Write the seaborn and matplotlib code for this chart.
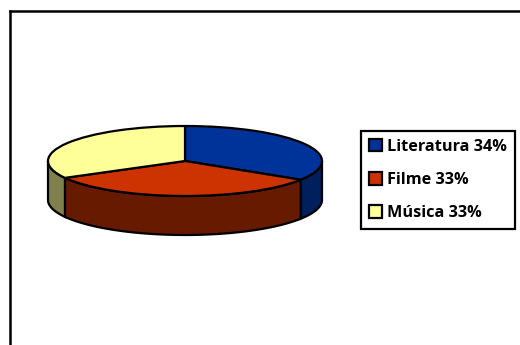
import numpy as np
import matplotlib
matplotlib.use("Agg")
import matplotlib.pyplot as plt
from matplotlib.patches import Polygon
import seaborn as sns

categories = ["Literatura", "Filme", "Música"]
values = [34, 33, 33]
top_colors = ["#003399", "#CC3300", "#FFFF99"]
side_colors = ["#001F5C", "#661A00", "#80804D"]

W, H = 520, 345
CX, CY, RX, RY, DEPTH = 185, 161, 137, 35, 39

sns.set_style("white")
plt.rcParams["font.family"] = ["Open Sans", "DejaVu Sans"]
plt.rcParams["text.color"] = "black"

fig = plt.figure(figsize=(W / 100, H / 100), dpi=100, facecolor="white")
left, top = 10, 10.5
ax = fig.add_axes([left / W, 0, (W - left) / W, (H - top) / H])

edge = dict(edgecolor="black", linewidth=1.6)
wedges, _ = ax.pie(values, colors=top_colors, startangle=90, counterclock=False,
                   wedgeprops=dict(**edge, joinstyle="round", zorder=3), normalize=True)

# Front wall of the disc: visible part of each slice below the horizontal axis
shift = DEPTH / RY
fractions = np.cumsum([0] + values) / sum(values)
for i, color in enumerate(side_colors):
    a0 = 90 - 360 * fractions[i]
    a1 = 90 - 360 * fractions[i + 1]
    a0, a1 = min(a0, 0), max(a1, -180)
    if a0 <= a1:
        continue
    t = np.radians(np.linspace(a0, a1, 80))
    x, y = np.cos(t), np.sin(t)
    pts = np.r_[np.c_[x, y], np.c_[x, y - shift][::-1]]
    ax.add_patch(Polygon(pts, closed=True, facecolor=color, zorder=2, **edge))

ax.set_aspect("auto")
ax.set_xlim((left - CX) / RX, (W - CX) / RX)
ax.set_ylim((CY - H) / RY, (CY - top) / RY)
ax.set_xticks([])
ax.set_yticks([])
ax.set_frame_on(True)
sns.despine(ax=ax, right=True, bottom=True)
for side in ("left", "top"):
    ax.spines[side].set_visible(True)
    ax.spines[side].set_color("black")
    ax.spines[side].set_linewidth(1.8)

labels = [f"{c} {v}%" for c, v in zip(categories, values)]
leg = ax.legend(wedges, labels, loc="center",
                bbox_to_anchor=(438.2 / W, 1 - 180 / H), bbox_transform=fig.transFigure,
                frameon=True, fancybox=False, framealpha=1, edgecolor="black",
                prop=dict(weight="bold", size=11.7),
                handlelength=0.8, handleheight=0.8, handletextpad=0.32,
                labelspacing=1.06, borderpad=0.5, borderaxespad=0)
leg.get_frame().set_linewidth(1.6)

fig.savefig("out.png", dpi=100)
